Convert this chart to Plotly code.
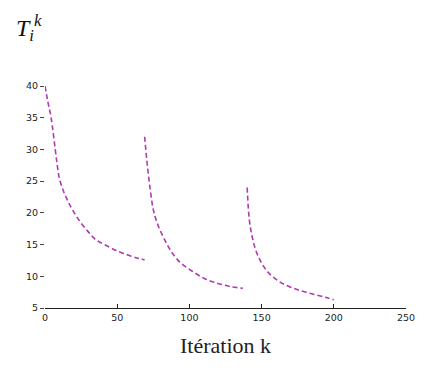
import plotly.graph_objects as go

# Segment 1
k1 = [0, 2, 3.5, 5, 7, 8.5, 10, 13, 16, 19, 24, 30, 35, 42, 50, 58, 65, 69]
t1 = [40, 37.5, 35.9, 33.8, 30.2, 27.5, 25.4, 23.3, 21.8, 20.5, 18.7, 17.0, 15.8, 14.9, 14.0, 13.3, 12.8, 12.6]
# Segment 2
k2 = [69, 71, 73, 75, 78, 83, 88, 94, 102, 110, 118, 128, 137]
t2 = [32, 27.2, 23.5, 20.5, 18.2, 15.7, 13.7, 12.1, 10.8, 9.7, 9.0, 8.4, 8.1]
# Segment 3
k3 = [140, 141.5, 143.5, 146, 150, 155, 162, 171, 182, 194, 200]
t3 = [24, 18.9, 16.2, 14.1, 12.1, 10.5, 9.2, 8.2, 7.4, 6.7, 6.3]

color = "#b03ab0"
fig = go.Figure()
for kx, ty in [(k1, t1), (k2, t2), (k3, t3)]:
    fig.add_trace(go.Scatter(x=kx, y=ty, mode="lines",
                             line=dict(color=color, width=1.6, dash="5px,3px", shape="spline"),
                             showlegend=False, hoverinfo="skip"))

tickfont = dict(family="DejaVu Sans", size=9.5, color="#222")
fig.update_layout(
    width=419, height=365,
    margin=dict(l=37, r=14, t=78, b=65),
    paper_bgcolor="white", plot_bgcolor="white",
    xaxis=dict(range=[0, 250], tickvals=[0, 50, 100, 150, 200, 250],
               ticks="inside", ticklen=4, tickcolor="#222",
               showline=True, linecolor="#222", linewidth=1.3,
               showgrid=False, zeroline=False, tickfont=tickfont,
               title=dict(text="Itération k", font=dict(family="Liberation Serif", size=22, color="#222"),
                          standoff=16)),
    yaxis=dict(range=[5, 40], tickvals=[5, 10, 15, 20, 25, 30, 35, 40],
               ticks="outside", ticklen=4, tickcolor="#444",
               showline=False, showgrid=False, zeroline=False, tickfont=tickfont),
    annotations=[dict(text="<i>T</i><sub><i>i</i></sub><sup><i>k</i></sup>",
                      x=-0.085, y=1.345, xref="paper", yref="paper", xanchor="left", yanchor="top",
                      showarrow=False, font=dict(family="Liberation Serif", size=24, color="#111"))],
)
fig.write_html("out.html")
